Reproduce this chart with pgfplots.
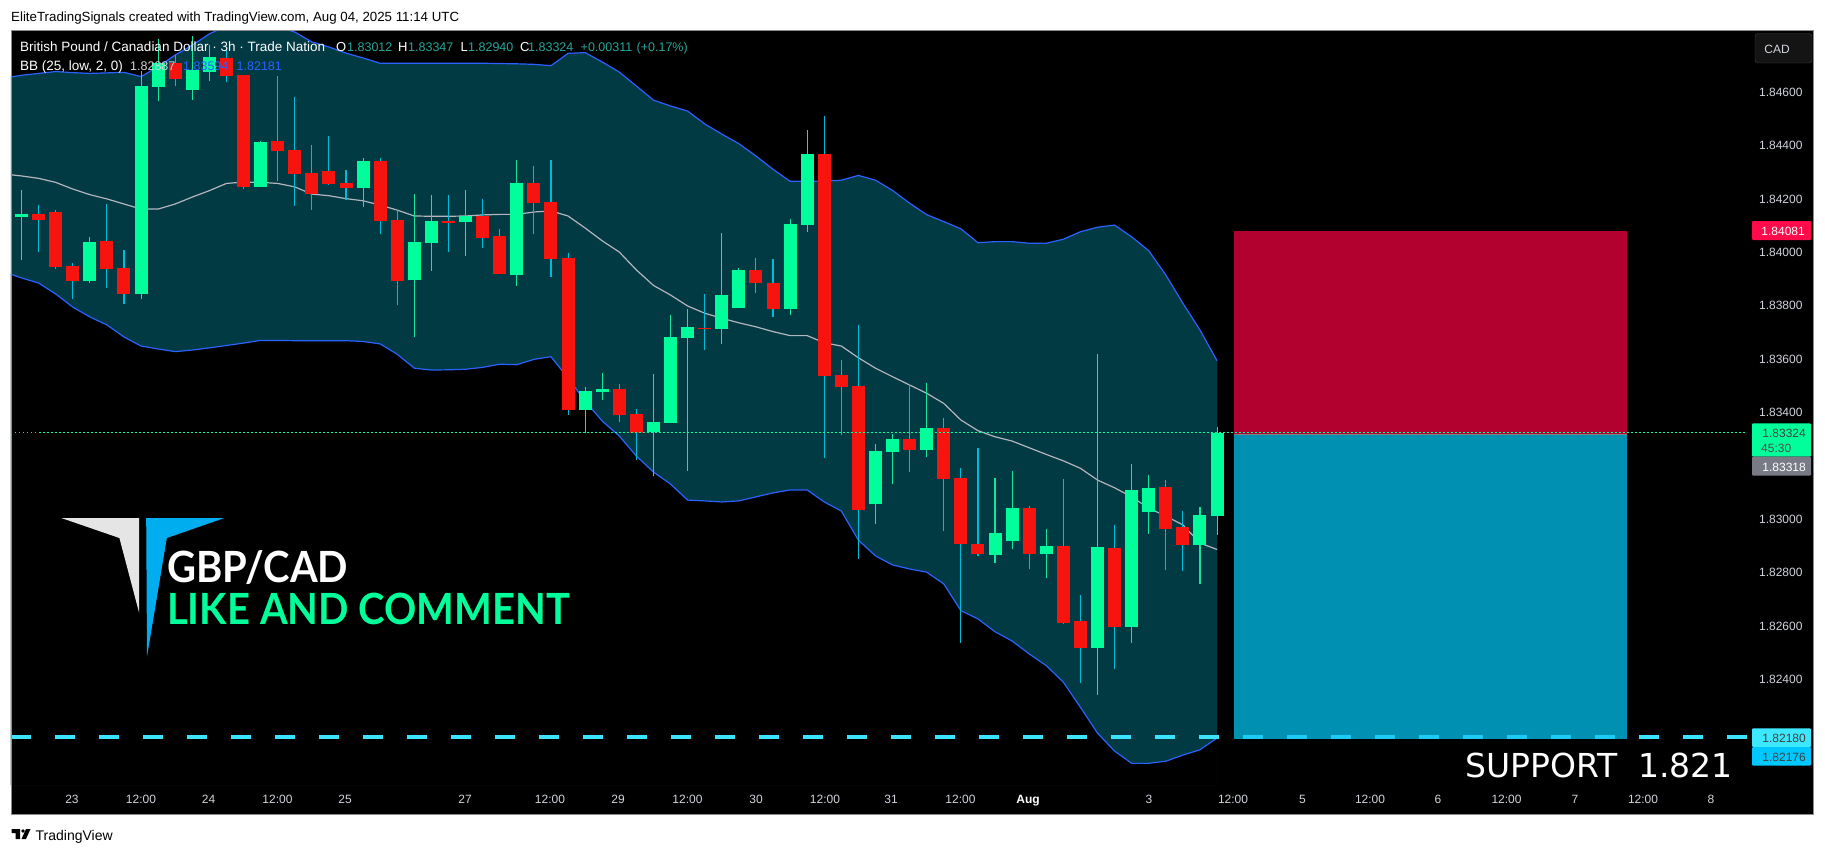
\documentclass[border=0pt]{standalone}
\usepackage{fontspec}
\setmainfont{Liberation Sans}
\newfontfamily\dispfont{Lato}
\newfontfamily\supfont{DejaVu Sans}
\usepackage{graphicx}
\usepackage{pgfplots}
\usepackage{pgfplotstable}
\pgfplotsset{compat=1.18}
\definecolor{bull}{HTML}{00FF9A}
\definecolor{bear}{HTML}{F7140E}
\definecolor{bullw}{HTML}{14E6A0}
\definecolor{bearw}{HTML}{00BCD9}
\definecolor{bandfill}{HTML}{023A43}
\definecolor{bandline}{HTML}{2962FF}
\definecolor{midline}{HTML}{B2B5BE}
\definecolor{lossbox}{HTML}{B2002F}
\definecolor{profitbox}{HTML}{0090B2}
\definecolor{support}{HTML}{3BE3FF}
\definecolor{supportb}{HTML}{1BCBF5}
\definecolor{ticktext}{HTML}{D1D4DC}
\definecolor{legteal}{HTML}{26A69A}
\definecolor{logoblue}{HTML}{00AEEF}
\pgfplotstableread{
i top bot hi lo
0 1.84144 1.84132 1.84233 1.83971
4 1.84039 1.83893 1.84057 1.83885
7 1.84623 1.83844 1.84679 1.83825
8 1.84709 1.84619 1.84799 1.84567
10 1.84683 1.84608 1.84810 1.84571
11 1.84732 1.84675 1.84777 1.84642
14 1.84413 1.84245 1.84417 1.84245
20 1.84342 1.84241 1.84353 1.84170
23 1.84039 1.83896 1.84218 1.83683
24 1.84117 1.84035 1.84215 1.83930
26 1.84136 1.84114 1.84233 1.83986
29 1.84260 1.83915 1.84346 1.83874
33 1.83481 1.83410 1.83497 1.83322
34 1.83489 1.83477 1.83547 1.83447
37 1.83365 1.83327 1.83544 1.83162
38 1.83683 1.83361 1.83765 1.83361
39 1.83720 1.83679 1.83788 1.83181
41 1.83840 1.83713 1.84072 1.83657
42 1.83934 1.83792 1.83941 1.83792
45 1.84106 1.83788 1.84125 1.83765
46 1.84368 1.84102 1.84458 1.84076
50 1.83256 1.83057 1.83282 1.82983
51 1.83301 1.83252 1.83320 1.83132
53 1.83342 1.83260 1.83511 1.83233
57 1.82949 1.82866 1.83155 1.82836
58 1.83042 1.82919 1.83181 1.82889
60 1.82900 1.82870 1.82964 1.82780
63 1.82896 1.82518 1.83619 1.82342
65 1.83110 1.82597 1.83207 1.82537
66 1.83117 1.83027 1.83166 1.82945
69 1.83016 1.82904 1.83046 1.82758
70 1.83324 1.83012 1.83347 1.82940
}\bulltable
\pgfplotstableread{
i top bot hi lo
1 1.84144 1.84121 1.84177 1.84002
2 1.84151 1.83945 1.84159 1.83939
3 1.83949 1.83893 1.83960 1.83825
5 1.84042 1.83938 1.84181 1.83866
6 1.83941 1.83844 1.84009 1.83806
9 1.84709 1.84649 1.84739 1.84623
12 1.84728 1.84660 1.84758 1.84638
13 1.84664 1.84245 1.84664 1.84237
15 1.84417 1.84380 1.84660 1.84267
16 1.84383 1.84293 1.84582 1.84174
17 1.84297 1.84218 1.84402 1.84159
18 1.84305 1.84256 1.84436 1.84251
19 1.84260 1.84241 1.84308 1.84196
21 1.84342 1.84117 1.84353 1.84069
22 1.84121 1.83893 1.84159 1.83803
25 1.84117 1.84110 1.84215 1.84001
27 1.84136 1.84054 1.84200 1.84016
28 1.84061 1.83919 1.84087 1.83919
30 1.84260 1.84185 1.84323 1.84069
31 1.84189 1.83975 1.84346 1.83908
32 1.83979 1.83410 1.83998 1.83391
35 1.83488 1.83391 1.83507 1.83365
36 1.83395 1.83325 1.83413 1.83222
40 1.83717 1.83713 1.83844 1.83634
43 1.83934 1.83885 1.83979 1.83848
44 1.83885 1.83788 1.83975 1.83758
47 1.84368 1.83537 1.84511 1.83230
48 1.83541 1.83496 1.83597 1.83316
49 1.83499 1.83035 1.83728 1.82851
52 1.83301 1.83260 1.83507 1.83177
54 1.83342 1.83151 1.83380 1.82956
55 1.83155 1.82908 1.83192 1.82537
56 1.82908 1.82870 1.83267 1.82863
59 1.83042 1.82870 1.83050 1.82814
61 1.82900 1.82612 1.83151 1.82608
62 1.82619 1.82518 1.82717 1.82387
64 1.82893 1.82597 1.82979 1.82439
67 1.83121 1.82964 1.83147 1.82810
68 1.82971 1.82904 1.83031 1.82807
}\beartable
\pgfplotstableread{
i up mid lo
-1 1.84653 1.84293 1.83926
0 1.84663 1.84286 1.83904
1 1.84670 1.84277 1.83885
2 1.84677 1.84262 1.83844
3 1.84673 1.84237 1.83795
4 1.84670 1.84216 1.83758
5 1.84672 1.84200 1.83728
6 1.84674 1.84181 1.83683
7 1.84658 1.84162 1.83649
8 1.84695 1.84162 1.83638
9 1.84739 1.84181 1.83628
10 1.84776 1.84207 1.83634
11 1.84818 1.84231 1.83642
12 1.84848 1.84258 1.83651
13 1.84851 1.84263 1.83660
14 1.84851 1.84262 1.83670
15 1.84844 1.84258 1.83670
16 1.84825 1.84245 1.83669
17 1.84788 1.84218 1.83669
18 1.84769 1.84212 1.83669
19 1.84746 1.84201 1.83669
20 1.84728 1.84193 1.83666
21 1.84708 1.84177 1.83657
22 1.84708 1.84158 1.83618
23 1.84708 1.84136 1.83566
24 1.84708 1.84135 1.83559
25 1.84708 1.84135 1.83560
26 1.84708 1.84136 1.83562
27 1.84708 1.84140 1.83569
28 1.84707 1.84142 1.83581
29 1.84706 1.84142 1.83579
30 1.84704 1.84151 1.83599
31 1.84699 1.84155 1.83609
32 1.84745 1.84136 1.83529
33 1.84748 1.84091 1.83443
34 1.84713 1.84043 1.83368
35 1.84675 1.84001 1.83312
36 1.84623 1.83934 1.83237
37 1.84570 1.83876 1.83177
38 1.84548 1.83840 1.83132
39 1.84529 1.83799 1.83072
40 1.84481 1.83772 1.83069
41 1.84443 1.83753 1.83065
42 1.84407 1.83736 1.83069
43 1.84361 1.83721 1.83084
44 1.84311 1.83703 1.83099
45 1.84266 1.83688 1.83110
46 1.84266 1.83688 1.83110
47 1.84267 1.83661 1.83065
48 1.84270 1.83649 1.83031
49 1.84288 1.83605 1.82922
50 1.84270 1.83566 1.82863
51 1.84232 1.83534 1.82829
52 1.84184 1.83503 1.82814
53 1.84141 1.83472 1.82802
54 1.84115 1.83434 1.82758
55 1.84088 1.83372 1.82658
56 1.84036 1.83332 1.82627
57 1.84040 1.83309 1.82579
58 1.84040 1.83293 1.82544
59 1.84034 1.83268 1.82496
60 1.84034 1.83243 1.82452
61 1.84049 1.83219 1.82390
62 1.84077 1.83191 1.82296
63 1.84094 1.83147 1.82199
64 1.84102 1.83118 1.82132
65 1.84058 1.83084 1.82086
66 1.84006 1.83042 1.82086
67 1.83915 1.83012 1.82094
68 1.83809 1.82979 1.82117
69 1.83709 1.82911 1.82137
70 1.83594 1.82887 1.82181
}\bandtable
\newcommand{\fs}[1]{\fontsize{#1}{#1}\selectfont}
\begin{document}
\begin{tikzpicture}[x=1pt,y=-1pt]
\fill[white] (0,0) rectangle (1825,854);
\fill[black] (11,30) rectangle (1813,814);
\begin{axis}[
  at={(11pt,-785pt)}, anchor=south west,
  scale only axis, width=1741pt, height=755pt,
  xmin=-0.6148, xmax=101.32, ymin=1.820049, ymax=1.848326,
  axis background/.style={fill=black},
  axis line style={draw=none},
  major tick length=0pt, minor tick num=0,
  xtick={3,7,11,15,19,26,31,35,39,43,47,51,55,59,63,67,71,75,79,83,87,91,95,99},
  xticklabels={},
  ytick={1.824,1.826,1.828,1.83,1.834,1.836,1.838,1.84,1.842,1.844,1.846},
  yticklabel pos=right,
  /pgf/number format/assume math mode=true,
  /pgf/number format/fixed, /pgf/number format/fixed zerofill, /pgf/number format/precision=5,
  yticklabel style={text=ticktext, font=\fs{12}, anchor=east, xshift=54pt},
  scaled y ticks=false,
  clip=true,
]
% band: teal under the upper line, black under the lower line
\addplot[fill=bandfill, draw=none, forget plot] table[x=i,y=up] {\bandtable} \closedcycle;
\addplot[fill=black, draw=none, forget plot] table[x=i,y=lo] {\bandtable} \closedcycle;
\addplot[draw=bandline, line width=1.2pt, forget plot] table[x=i,y=up] {\bandtable};
\addplot[draw=bandline, line width=1.2pt, forget plot] table[x=i,y=lo] {\bandtable};
\addplot[draw=midline, line width=1.2pt, forget plot] table[x=i,y=mid] {\bandtable};
% risk / reward boxes
\addplot[fill=lossbox, draw=none, forget plot] coordinates {(71,1.84081)(94,1.84081)(94,1.83318)(71,1.83318)} -- cycle;
\addplot[fill=profitbox, draw=none, forget plot] coordinates {(71,1.83318)(94,1.83318)(94,1.82176)(71,1.82176)} -- cycle;
\addplot[draw=gray, line width=1pt, forget plot] coordinates {(71,1.83318)(94,1.83318)};
% candles: wicks
\addplot[draw=none, mark=none, forget plot, error bars/.cd, y dir=minus, y explicit, error mark=none,
  error bar style={draw=bullw, line width=1.1pt}]
  table[x=i, y=hi, y error minus expr=\thisrow{hi}-\thisrow{lo}] {\bulltable};
\addplot[draw=none, mark=none, forget plot, error bars/.cd, y dir=minus, y explicit, error mark=none,
  error bar style={draw=bearw, line width=1.1pt}]
  table[x=i, y=hi, y error minus expr=\thisrow{hi}-\thisrow{lo}] {\beartable};
% candles: bodies
\addplot[draw=none, mark=none, forget plot, error bars/.cd, y dir=minus, y explicit, error mark=none,
  error bar style={draw=bull, line width=13pt}]
  table[x=i, y=top, y error minus expr=\thisrow{top}-\thisrow{bot}] {\bulltable};
\addplot[draw=none, mark=none, forget plot, error bars/.cd, y dir=minus, y explicit, error mark=none,
  error bar style={draw=bear, line width=13pt}]
  table[x=i, y=top, y error minus expr=\thisrow{top}-\thisrow{bot}] {\beartable};
% support and last price
\addplot[draw=support, line width=4pt, dash pattern=on 20pt off 24pt, forget plot] coordinates {(-0.6148,1.82183)(101.32,1.82183)};
\addplot[draw=supportb, line width=4pt, dash pattern=on 20pt off 24pt, dash phase=35pt, forget plot] coordinates {(71,1.82183)(94,1.82183)};
\addplot[draw=bull, line width=0.9pt, dash pattern=on 1.5pt off 2.5pt, forget plot] coordinates {(-0.6148,1.83324)(101.0,1.83324)};
\end{axis}
% time axis labels
\foreach \xp/\t in {72/23,141/12:00,208.5/24,277.5/12:00,345/25,465/27,550/12:00,618/29,687.5/12:00,756/30,825/12:00,891/31,960.5/12:00,1149/3,1233/12:00,1302.5/5,1370/12:00,1438/6,1506.5/12:00,1575/7,1643/12:00,1711/8}
  \node[anchor=base, inner sep=0, text=ticktext, font=\fs{12}] at (\xp,803.5) {\t};
\node[anchor=base, inner sep=0, text=white, font=\fs{12}\bfseries] at (1028,803.5) {Aug};
% frame
\draw[gray!90, line width=1pt] (11,30) rectangle (1813,814);
% header / footer
\node[anchor=base west, inner sep=0, text=black, font=\fs{13.3}] at (11,21) {EliteTradingSignals created with TradingView.com, Aug 04, 2025 11:14 UTC};
\node[anchor=base west, inner sep=0, text=white, font=\fs{13.5}] at (20,51) {British Pound / Canadian Dollar · 3h · Trade Nation};
\foreach \xp/\t in {336/O,398/H,460.5/L,520/C}
  \node[anchor=base west, inner sep=0, text=white, font=\fs{13}] at (\xp,51) {\t};
\foreach \xp/\t in {347/1.83012,408/1.83347,468/1.82940,528/1.83324,580.5/+0.00311,636.5/(+0.17\%)}
  \node[anchor=base west, inner sep=0, text=legteal, font=\fs{12.5}] at (\xp,51) {\t};
\node[anchor=base west, inner sep=0, text=white, font=\fs{13.5}] at (20,70) {BB (25, low, 2, 0)};
\node[anchor=base west, inner sep=0, text=ticktext, font=\fs{12.5}] at (130,70) {1.82887};
\node[anchor=base west, inner sep=0, text=bandline, font=\fs{12.5}] at (183,70) {1.83594};
\node[anchor=base west, inner sep=0, text=bandline, font=\fs{12.5}] at (236.5,70) {1.82181};
% TradingView mark
\fill[black] (11.5,829) -- (20,829) -- (20,839) -- (15.5,839) -- (15.5,833) -- (11.5,833) -- cycle;
\fill[black] (23,831) circle (1.8);
\fill[black] (26,829) -- (30.5,829) -- (26,839) -- (21.5,839) -- cycle;
\node[anchor=base west, inner sep=0, text=black, font=\fs{14}] at (35.5,840) {TradingView};
% logo
\fill[black!10] (61.3,518) -- (139.1,518) -- (139.1,612.7) -- (119.4,538) -- cycle;
\fill[logoblue] (146.2,518) -- (224.5,518) -- (166.8,538) -- (147,656.7) -- cycle;
\node[anchor=base west, inner sep=0, text=white, font=\fs{43}\dispfont\bfseries] at (167,582.3) {\scalebox{0.93}[1]{GBP/CAD}};
\node[anchor=base west, inner sep=0, text=bull, font=\fs{43}\dispfont\bfseries] at (167,624) {\scalebox{0.93}[1]{LIKE AND COMMENT}};
\node[anchor=base east, inner sep=0, text=white, font=\fs{33}\supfont] at (1733,777.5) {SUPPORT\ \ 1.821};
% CAD button
\draw[fill=black!92!white, draw=black!75!white, rounded corners=3pt] (1755,33.5) rectangle (1812,63);
\node[text=ticktext, font=\fs{12}, inner sep=0] at (1777,49) {CAD};
% price tags
\fill[rounded corners=1pt, fill={rgb,255:red,255;green,10;blue,75}] (1752,221) rectangle (1811,240);
\node[anchor=base east, inner sep=0, text=white, font=\fs{12}] at (1805,235) {1.84081};
\fill[rounded corners=1pt, fill=bull] (1752,423.3) rectangle (1811,456.7);
\node[anchor=base east, inner sep=0, text=black!75, font=\fs{12}] at (1806,437) {1.83324};
\node[anchor=base west, inner sep=0, text=black!70, font=\fs{12}] at (1761,452) {45:30};
\fill[rounded corners=1pt, fill={rgb,255:red,120;green,123;blue,134}] (1752,456.7) rectangle (1811,475.7);
\node[anchor=base east, inner sep=0, text=white, font=\fs{12}] at (1806,471) {1.83318};
\fill[rounded corners=1pt, fill={rgb,255:red,61;green,232;blue,255}] (1752,728.3) rectangle (1811,747);
\node[anchor=base east, inner sep=0, text=black!75, font=\fs{12}] at (1806,742) {1.82180};
\fill[rounded corners=1pt, fill={rgb,255:red,0;green,200;blue,255}] (1752,747) rectangle (1811,765.7);
\node[anchor=base east, inner sep=0, text=black!75, font=\fs{12}] at (1806,761) {1.82176};
\end{tikzpicture}
\end{document}
